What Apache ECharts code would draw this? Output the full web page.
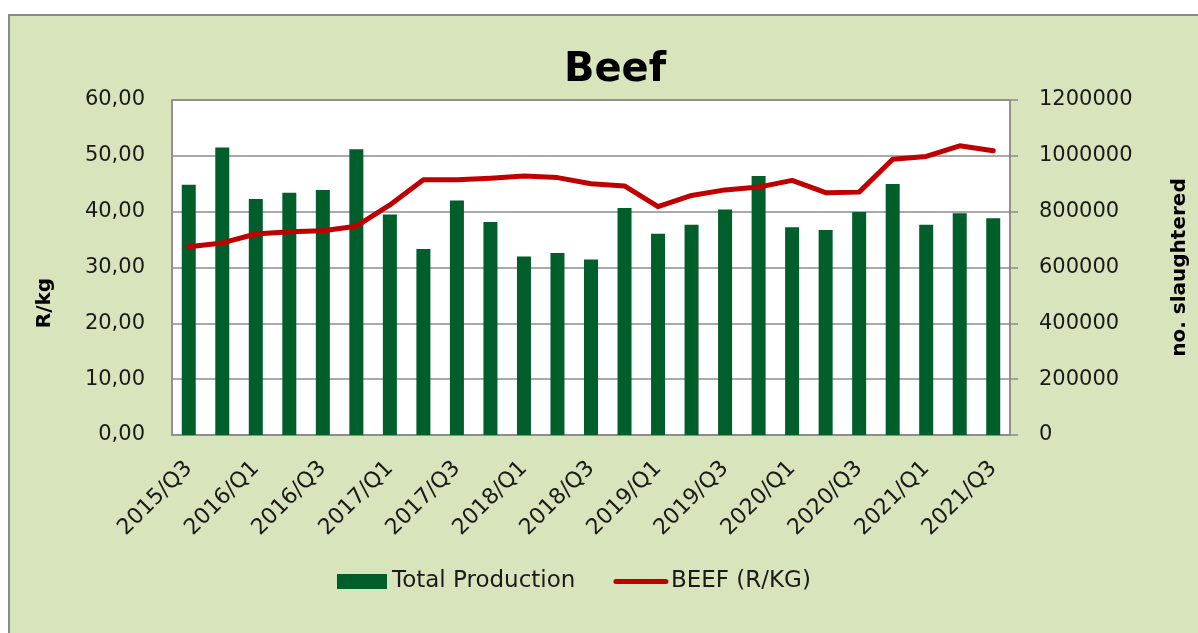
<!DOCTYPE html>
<html>
<head>
<meta charset="utf-8">
<title>Beef</title>
<script src="https://cdn.jsdelivr.net/npm/echarts@6/dist/echarts.min.js"></script>
<style>
  html, body { margin: 0; padding: 0; background: #ffffff; }
  #chart { width: 1198px; height: 633px; }
</style>
</head>
<body>
<div id="chart"></div>
<script>
// quarters 2015/Q3 .. 2021/Q3
const quarters = [
  '2015/Q3', '2015/Q4', '2016/Q1', '2016/Q2', '2016/Q3', '2016/Q4',
  '2017/Q1', '2017/Q2', '2017/Q3', '2017/Q4', '2018/Q1', '2018/Q2',
  '2018/Q3', '2018/Q4', '2019/Q1', '2019/Q2', '2019/Q3', '2019/Q4',
  '2020/Q1', '2020/Q2', '2020/Q3', '2020/Q4', '2021/Q1', '2021/Q2',
  '2021/Q3'
]
// number slaughtered (right axis)
const totalProduction = [
  896000, 1030000, 845000, 868000, 878000, 1024000,
  790000, 666000, 840000, 763000, 639000, 652000,
  629000, 813000, 721000, 753000, 808000, 928000,
  744000, 734000, 799000, 899000, 753000, 794000,
  776000
]
// beef price R/kg (left axis)
const beefPrice = [
  33.7, 34.4, 36.0, 36.4, 36.6, 37.4,
  41.2, 45.7, 45.7, 46.0, 46.4, 46.1,
  45.0, 44.6, 40.9, 42.9, 43.9, 44.4,
  45.6, 43.4, 43.5, 49.4, 49.9, 51.8,
  50.9
]

const font = 'DejaVu Sans'
const txt = '#1a1a1a'
const gridGray = '#8c8c8c'

const chart = echarts.init(document.getElementById('chart'))

const option = {
  backgroundColor: '#ffffff',
  animation: false,
  textStyle: { fontFamily: font, color: txt },
  title: {
    text: 'Beef',
    left: 610,
    top: 46,
    textAlign: 'center',
    textStyle: { fontFamily: font, fontSize: 40, fontWeight: 'bold', color: '#000' }
  },
  graphic: [
    {
      type: 'rect',
      z: -10,
      shape: { x: 9, y: 15, width: 1300, height: 700 },
      style: { fill: '#d8e4bc', stroke: '#8a8a8a', lineWidth: 2 }
    },
    {
      type: 'text',
      x: 45,
      y: 303,
      rotation: Math.PI / 2,
      style: {
        text: 'R/kg',
        fill: '#000',
        font: 'bold 20px "DejaVu Sans"',
        align: 'center',
        verticalAlign: 'middle'
      }
    }
  ],
  legend: {
    left: 332,
    top: 565,
    itemGap: 38,
    itemWidth: 50,
    itemHeight: 15,
    textStyle: { fontFamily: font, fontSize: 23, color: txt },
    data: [
      { name: 'Total Production', icon: 'rect' },
      {
        name: 'BEEF (R/KG)',
        itemStyle: { opacity: 0 },
        lineStyle: { width: 5, color: '#c00000', cap: 'round' }
      }
    ]
  },
  grid: {
    left: 172,
    right: 182,
    top: 100,
    bottom: 198,
    show: true,
    backgroundColor: '#ffffff',
    borderColor: gridGray,
    borderWidth: 1.5
  },
  xAxis: {
    type: 'category',
    data: quarters,
    axisLine: { lineStyle: { color: gridGray, width: 1.5 } },
    axisTick: { show: false },
    axisLabel: {
      interval: 1,
      rotate: 45,
      margin: 30,
      fontSize: 22,
      fontFamily: font,
      color: txt
    }
  },
  yAxis: [
    {
      type: 'value',
      min: 0,
      max: 60,
      interval: 10,
      axisLine: { show: true, lineStyle: { color: gridGray, width: 1.5 } },
      axisTick: { show: false },
      axisLabel: {
        margin: 27,
        fontSize: 21,
        fontFamily: font,
        color: txt,
        formatter: v => v.toFixed(2).replace('.', ',')
      },
      splitLine: { lineStyle: { color: gridGray, width: 1.5 } }
    },
    {
      type: 'value',
      min: 0,
      max: 1200000,
      interval: 200000,
      position: 'right',
      name: 'no. slaughtered',
      nameLocation: 'middle',
      nameGap: 160,
      nameRotate: 90,
      nameTextStyle: { fontFamily: font, fontSize: 20, fontWeight: 'bold', color: '#000' },
      axisLine: { show: true, lineStyle: { color: gridGray, width: 1.5 } },
      axisTick: { show: true, length: 8, lineStyle: { color: gridGray, width: 1.5 } },
      axisLabel: {
        margin: 29,
        fontSize: 21,
        fontFamily: font,
        color: txt,
        formatter: v => String(v)
      },
      splitLine: { show: false }
    }
  ],
  series: [
    {
      name: 'Total Production',
      type: 'bar',
      yAxisIndex: 1,
      data: totalProduction,
      barWidth: 14,
      itemStyle: { color: '#005e2b' }
    },
    {
      name: 'BEEF (R/KG)',
      type: 'line',
      yAxisIndex: 0,
      data: beefPrice,
      symbol: 'none',
      lineStyle: { color: '#c00000', width: 5, cap: 'round', join: 'round' },
      itemStyle: { color: '#c00000' }
    }
  ]
}

chart.setOption(option)
</script>
</body>
</html>
